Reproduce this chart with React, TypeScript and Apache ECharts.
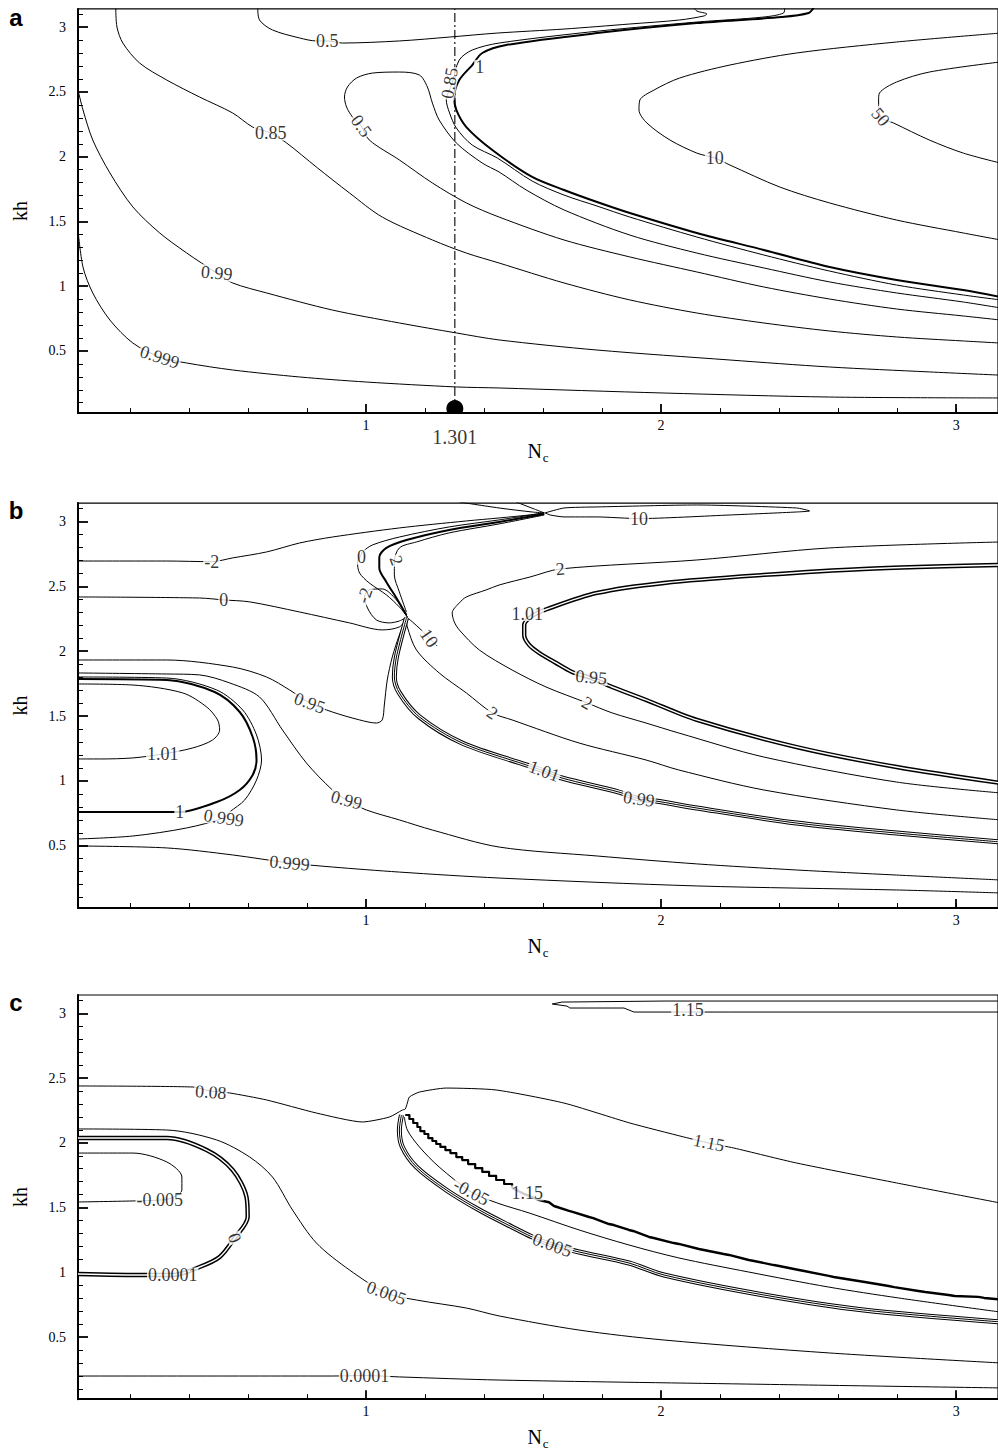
import React, { useEffect, useRef } from "react";
import * as echarts from "echarts";

type Pt = [number, number];
type Lbl = [number, number, string];

const SERIF = '"Liberation Serif", "Times New Roman", Times, serif';
const SANS = '"Liberation Sans", Arial, Helvetica, sans-serif';

// ---------------- axes ----------------
const xRange: [number, number] = [0.024, Math.PI];
const yRange: [number, number] = [0.02, Math.PI];
const xMajor = [1, 2, 3];
const xMinor = [0.2, 0.4, 0.6, 0.8, 1.2, 1.4, 1.6, 1.8, 2.2, 2.4, 2.6, 2.8, 3.0];
const yMajor = [0.5, 1, 1.5, 2, 2.5, 3];
const yMinor = [0.1, 0.2, 0.3, 0.4, 0.6, 0.7, 0.8, 0.9, 1.1, 1.2, 1.3, 1.4, 1.6, 1.7, 1.8, 1.9, 2.1, 2.2, 2.3, 2.4, 2.6, 2.7, 2.8, 2.9, 3.1];
const panelLetters = ["a", "b", "c"];
const xAxisTitle = "N";
const xAxisSub = "c";
const yAxisTitle = "kh";
const criticalNc = 1.301;
const criticalLabel = "1.301";
const criticalMarkerY = 0.055;

// ---------------- panel a contours ----------------
const aC0999: Pt[] = [[0.024,1.434],[0.041,1.147],[0.074,0.948],[0.132,0.739],[0.21,0.561],[0.301,0.453],[0.392,0.407],[0.548,0.353],[0.775,0.299],[1.001,0.26],[1.306,0.222],[1.451,0.214],[2.01,0.175],[2.571,0.144],[3.15,0.137]];
const aC099: Pt[] = [[0.024,2.515],[0.041,2.361],[0.074,2.129],[0.132,1.875],[0.21,1.612],[0.301,1.411],[0.392,1.257],[0.494,1.102],[0.548,1.025],[0.663,0.948],[0.886,0.816],[1.113,0.716],[1.306,0.639],[1.451,0.585],[1.783,0.507],[2.233,0.43],[2.571,0.376],[2.909,0.338],[3.15,0.313]];
const aC085: Pt[] = [[0.152,3.15],[0.156,3.002],[0.176,2.878],[0.233,2.723],[0.325,2.592],[0.436,2.461],[0.548,2.338],[0.616,2.229],[0.677,2.183],[0.731,2.106],[0.832,1.92],[0.944,1.72],[1.055,1.534],[1.225,1.357],[1.34,1.256],[1.451,1.179],[1.671,1.025],[1.894,0.894],[2.121,0.793],[2.348,0.716],[2.571,0.654],[2.798,0.608],[3.024,0.577],[3.15,0.561]];
const aC05top: Pt[] = [[0.633,3.15],[0.639,3.056],[0.683,2.979],[0.775,2.917],[0.832,2.894],[0.869,2.894],[0.92,2.878],[1.113,2.894],[1.282,2.924],[1.445,2.955],[1.671,2.986],[1.894,3.025],[2.063,3.056],[2.145,3.087],[2.155,3.102],[2.121,3.125],[2.111,3.15]];
const aC05loop: Pt[] = [[3.15,0.739],[3.024,0.77],[2.798,0.824],[2.571,0.901],[2.348,0.994],[2.121,1.11],[1.894,1.226],[1.671,1.357],[1.451,1.534],[1.34,1.643],[1.225,1.797],[1.113,1.975],[1.011,2.129],[0.984,2.237],[0.954,2.307],[0.934,2.384],[0.927,2.461],[0.937,2.538],[0.968,2.608],[1.022,2.646],[1.113,2.654],[1.181,2.631],[1.208,2.538],[1.225,2.414],[1.248,2.283],[1.306,2.106],[1.394,1.951],[1.451,1.882],[1.543,1.743],[1.671,1.589],[1.894,1.395],[2.121,1.256],[2.348,1.141],[2.571,1.033],[2.798,0.948],[3.024,0.878],[3.15,0.832]];
const aC1: Pt[] = [[2.517,3.15],[2.5,3.11],[2.409,3.079],[2.121,3.032],[1.783,2.955],[1.475,2.863],[1.394,2.801],[1.36,2.708],[1.316,2.592],[1.299,2.461],[1.306,2.361],[1.34,2.229],[1.428,2.052],[1.563,1.844],[1.671,1.743],[1.783,1.65],[1.894,1.565],[2.121,1.411],[2.348,1.28],[2.571,1.148],[2.798,1.048],[3.024,0.971],[3.15,0.917]];
const aC085b: Pt[] = [[2.419,3.15],[2.415,3.11],[2.348,3.079],[2.121,3.04],[1.79,2.971],[1.451,2.878],[1.36,2.824],[1.316,2.747],[1.292,2.569],[1.272,2.438],[1.282,2.345],[1.306,2.222],[1.36,2.09],[1.445,1.99],[1.563,1.812],[1.671,1.704],[1.783,1.619],[1.894,1.534],[2.121,1.38],[2.348,1.241],[2.571,1.117],[2.798,1.009],[3.024,0.932],[3.15,0.894]];
const aC10: Pt[] = [[3.15,2.955],[2.798,2.886],[2.459,2.801],[2.233,2.708],[2.063,2.608],[1.976,2.515],[1.928,2.438],[1.925,2.361],[1.952,2.26],[2.03,2.129],[2.121,2.028],[2.182,1.99],[2.233,1.936],[2.402,1.766],[2.571,1.643],[2.798,1.511],[3.024,1.411],[3.15,1.357]];
const aC50: Pt[] = [[3.15,2.732],[2.909,2.654],[2.798,2.577],[2.74,2.492],[2.737,2.438],[2.744,2.307],[2.788,2.26],[2.909,2.129],[3.024,2.028],[3.15,1.951]];
const aRefLine: Pt[] = [[criticalNc, 0.02], [criticalNc, Math.PI]];

const labelsA: Lbl[] = [[0.301,0.453,"0.999"],[0.494,1.102,"0.99"],[0.677,2.183,"0.85"],[0.869,2.894,"0.5"],[0.984,2.237,"0.5"],[1.283,2.569,"0.85"],[1.385,2.69,"1"],[2.182,1.99,"10"],[2.744,2.307,"50"]];
const rotA = [-18, -5, 0, 0, -55, 80, 0, 0, -50];

// ---------------- panel b contours ----------------
const bCm2: Pt[] = [[0.024,2.695],[0.325,2.695],[0.477,2.69],[0.548,2.719],[0.663,2.765],[0.775,2.834],[0.886,2.88],[1.113,2.95],[1.34,3.004],[1.451,3.027],[1.553,3.05],[1.604,3.066]];
const bCtop1: Pt[] = [[1.316,3.15],[1.451,3.104],[1.563,3.073],[1.604,3.066]];
const bCtop2: Pt[] = [[1.509,3.15],[1.57,3.096],[1.604,3.066]];
const bC10top: Pt[] = [[1.607,3.066],[1.671,3.104],[1.783,3.112],[2.121,3.127],[2.459,3.104],[2.503,3.081],[2.459,3.073],[2.233,3.05],[1.925,3.022],[1.783,3.035],[1.671,3.035],[1.624,3.05],[1.607,3.066]];
const bC0: Pt[] = [[1.604,3.066],[1.451,3.012],[1.282,2.958],[1.113,2.88],[1.022,2.819],[0.988,2.765],[0.98,2.726],[0.971,2.688],[0.978,2.603],[1.011,2.526],[1.069,2.434],[1.113,2.341],[1.14,2.264]];
const bCthick: Pt[] = [[1.604,3.058],[1.451,2.996],[1.282,2.935],[1.137,2.857],[1.069,2.796],[1.045,2.726],[1.045,2.642],[1.069,2.534],[1.103,2.41],[1.137,2.279]];
const bC2a: Pt[] = [[1.604,3.05],[1.451,2.981],[1.282,2.912],[1.171,2.842],[1.113,2.796],[1.096,2.688],[1.096,2.588],[1.113,2.457],[1.137,2.302]];
const bCpetal: Pt[] = [[1.14,2.264],[1.113,2.233],[1.079,2.218],[1.035,2.241],[1.005,2.333],[0.995,2.426],[1.011,2.472],[1.055,2.48],[1.103,2.395],[1.14,2.264]];
const bC0h: Pt[] = [[0.024,2.418],[0.436,2.41],[0.518,2.395],[0.606,2.38],[0.775,2.302],[0.944,2.218],[1.055,2.164],[1.113,2.187],[1.14,2.256]];
const bC095: Pt[] = [[0.024,1.932],[0.325,1.932],[0.548,1.878],[0.663,1.801],[0.741,1.701],[0.809,1.601],[0.886,1.531],[0.978,1.47],[1.035,1.446],[1.055,1.47],[1.062,1.585],[1.072,1.778],[1.089,1.955],[1.113,2.125],[1.137,2.256]];
const bC099: Pt[] = [[0.024,1.832],[0.325,1.824],[0.436,1.817],[0.538,1.755],[0.639,1.647],[0.717,1.392],[0.798,1.138],[0.886,0.93],[0.934,0.853],[1.001,0.776],[1.113,0.699],[1.225,0.621],[1.451,0.49],[1.783,0.421],[2.121,0.36],[2.459,0.313],[2.798,0.274],[3.15,0.236]];
const bC0999loop: Pt[] = [[0.024,1.801],[0.325,1.793],[0.494,1.701],[0.582,1.547],[0.629,1.354],[0.646,1.161],[0.629,1.007],[0.589,0.853],[0.538,0.76],[0.518,0.714],[0.392,0.637],[0.21,0.575],[0.024,0.552]];
const bC1loop: Pt[] = [[0.024,1.786],[0.325,1.778],[0.487,1.685],[0.572,1.531],[0.616,1.338],[0.629,1.161],[0.616,1.046],[0.572,0.93],[0.494,0.837],[0.369,0.76],[0.267,0.76],[0.098,0.76],[0.024,0.76]];
const bC101: Pt[] = [[0.024,1.747],[0.21,1.739],[0.379,1.678],[0.46,1.57],[0.497,1.47],[0.504,1.392],[0.48,1.315],[0.413,1.254],[0.311,1.207],[0.21,1.177],[0.098,1.169],[0.024,1.169]];
const bC0999: Pt[] = [[0.024,0.498],[0.325,0.483],[0.548,0.429],[0.741,0.367],[0.886,0.336],[1.113,0.297],[1.451,0.251],[2.121,0.19],[2.798,0.159],[3.15,0.136]];
const bC10: Pt[] = [[1.137,2.264],[1.157,2.226],[1.187,2.164],[1.214,2.102],[1.241,2.04]];
const bC2b: Pt[] = [[1.137,2.256],[1.14,2.187],[1.171,2.009],[1.248,1.832],[1.34,1.678],[1.428,1.524],[1.495,1.47],[1.722,1.292],[1.949,1.161],[2.06,1.084],[2.348,0.93],[2.798,0.776],[3.15,0.699]];
const bC2loop: Pt[] = [[3.15,2.842],[2.571,2.796],[2.121,2.703],[1.658,2.634],[1.556,2.572],[1.451,2.51],[1.407,2.472],[1.34,2.418],[1.316,2.372],[1.292,2.295],[1.299,2.226],[1.316,2.164],[1.384,2.009],[1.495,1.855],[1.61,1.724],[1.749,1.601],[1.834,1.524],[1.949,1.446],[2.06,1.369],[2.348,1.184],[2.798,0.991],[3.15,0.907]];
const bCinner: Pt[] = [[3.15,2.665],[2.686,2.634],[2.348,2.588],[2.01,2.526],[1.783,2.449],[1.614,2.325],[1.563,2.271],[1.536,2.202],[1.536,2.125],[1.553,2.048],[1.587,1.986],[1.644,1.909],[1.698,1.84],[1.763,1.793],[1.834,1.724],[1.949,1.624],[2.121,1.47],[2.459,1.261],[2.798,1.107],[3.15,0.984]];
const bCtriple: Pt[] = [[1.137,2.256],[1.103,1.955],[1.096,1.801],[1.113,1.678],[1.181,1.493],[1.326,1.292],[1.543,1.123],[1.604,1.076],[1.664,1.022],[1.857,0.914],[1.925,0.861],[1.982,0.845],[2.121,0.791],[2.459,0.675],[2.798,0.598],[3.15,0.529]];

const labelsB: Lbl[] = [[0.477,2.69,"-2"],[0.518,2.395,"0"],[0.985,2.726,"0"],[1.103,2.7,"2"],[0.995,2.43,"-2"],[1.214,2.102,"10"],[1.925,3.022,"10"],[1.658,2.634,"2"],[1.546,2.29,"1.01"],[1.763,1.8,"0.95"],[1.749,1.601,"2"],[1.428,1.524,"2"],[1.604,1.076,"1.01"],[1.925,0.861,"0.99"],[0.809,1.601,"0.95"],[0.934,0.853,"0.99"],[0.311,1.207,"1.01"],[0.369,0.76,"1"],[0.518,0.714,"0.999"],[0.741,0.367,"0.999"]];
const rotB = [0, 0, 0, -70, 70, -55, 0, 5, 0, -5, -30, -35, -20, -8, -20, -15, 0, 0, -8, -5];

// ---------------- panel c contours ----------------
const cC00001b: Pt[] = [[0.024,0.199],[0.886,0.199],[0.995,0.203],[1.113,0.192],[1.451,0.168],[2.29,0.137],[3.15,0.107]];
const cCm0005: Pt[] = [[0.024,1.921],[0.21,1.921],[0.325,1.852],[0.376,1.736],[0.376,1.636],[0.342,1.574],[0.301,1.558],[0.21,1.551],[0.024,1.543]];
const cC0005: Pt[] = [[0.024,2.107],[0.325,2.099],[0.494,2.022],[0.606,1.89],[0.683,1.736],[0.751,1.481],[0.832,1.226],[0.944,1.018],[1.069,0.84],[1.171,0.786],[1.34,0.724],[1.451,0.663],[1.722,0.554],[2.01,0.477],[2.571,0.377],[3.15,0.3]];
const cCloop: Pt[] = [[0.024,2.037],[0.325,2.037],[0.46,1.944],[0.548,1.79],[0.595,1.582],[0.599,1.427],[0.555,1.265],[0.504,1.118],[0.436,1.041],[0.345,0.979],[0.257,0.979],[0.024,0.987]];
const cC008: Pt[] = [[0.024,2.439],[0.413,2.431],[0.474,2.4],[0.538,2.385],[0.663,2.331],[0.832,2.23],[0.988,2.161],[1.079,2.199],[1.123,2.253],[1.133,2.261],[1.14,2.307],[1.147,2.354],[1.181,2.392],[1.272,2.423],[1.441,2.408],[1.671,2.307],[1.894,2.153],[2.077,2.045],[2.162,1.998],[2.246,1.96],[2.459,1.844],[2.798,1.69],[3.15,1.535]];
// staircase part of the thick 1.15 contour near the cusp
const cCstairNear: Pt[] = [[1.133,2.215],[1.147,2.184],[1.16,2.153],[1.174,2.122],[1.184,2.091],[1.198,2.068],[1.211,2.037],[1.225,2.014],[1.238,1.991],[1.252,1.968],[1.269,1.944],[1.286,1.921],[1.306,1.89],[1.326,1.867],[1.346,1.836],[1.37,1.805],[1.394,1.775],[1.417,1.744],[1.441,1.713],[1.468,1.682],[1.495,1.651]];
const cCstairFar: Pt[] = [[1.495,1.651],[1.536,1.605],[1.587,1.558],[1.62,1.541],[1.637,1.512],[1.688,1.474],[1.7,1.466],[1.756,1.427],[1.77,1.419],[1.823,1.373],[1.84,1.365],[1.891,1.327],[1.905,1.319],[1.959,1.273],[1.975,1.265],[2.043,1.226],[2.06,1.219],[2.128,1.18],[2.145,1.172],[2.212,1.141],[2.23,1.134],[2.297,1.095],[2.315,1.087],[2.382,1.056],[2.4,1.049],[2.467,1.018],[2.485,1.01],[2.568,0.972],[2.585,0.964],[2.669,0.933],[2.69,0.925],[2.771,0.894],[2.79,0.886],[2.872,0.856],[2.895,0.848],[2.974,0.825],[2.995,0.817],[3.075,0.81],[3.095,0.802],[3.15,0.79]];
const cCm005: Pt[] = [[1.13,2.199],[1.14,2.099],[1.181,1.968],[1.248,1.813],[1.357,1.62],[1.445,1.535],[1.553,1.458],[1.722,1.327],[1.891,1.211],[2.06,1.111],[2.297,1.002],[2.568,0.886],[2.804,0.802],[3.15,0.693]];
const cCtriple: Pt[] = [[1.12,2.214],[1.113,2.099],[1.123,1.968],[1.171,1.813],[1.272,1.636],[1.384,1.481],[1.495,1.35],[1.563,1.273],[1.631,1.211],[1.722,1.157],[1.891,1.072],[2.01,0.979],[2.348,0.825],[2.686,0.709],[3.15,0.617]];
const cC115top: Pt[] = [[3.15,3.095],[2.01,3.095],[1.664,3.087],[1.631,3.072],[1.681,3.056],[1.691,3.041],[1.874,3.041],[1.908,3.01],[2.091,3.01],[2.233,3.01],[3.15,3.01]];

const labelsC: Lbl[] = [[0.474,2.392,"0.08"],[2.162,2.0,"1.15"],[2.091,3.025,"1.15"],[0.301,1.558,"-0.005"],[0.555,1.265,"0"],[0.345,0.979,"0.0001"],[1.069,0.84,"0.005"],[0.995,0.203,"0.0001"],[1.357,1.62,"-0.05"],[1.546,1.612,"1.15"],[1.631,1.211,"0.005"]];
const rotC = [-4, -12, 0, 0, -70, 0, -20, 0, -28, 0, -20];

// ---------------- layout ----------------
const PANELS = [
  { top: 8.9, height: 404.2, letterY: 17 },
  { top: 503.1, height: 404.9, letterY: 510 },
  { top: 995.0, height: 404.2, letterY: 1002.5 },
];
const GRID_LEFT = 78;
const GRID_WIDTH = 921.5;

type Kind = "thin" | "thick" | "double" | "triple" | "stair" | "thickpoly" | "dashdot";
type Contour = { p: number; d: Pt[]; k?: Kind; s?: number };

const contours: Contour[] = [
  { p: 0, d: aC0999 }, { p: 0, d: aC099 }, { p: 0, d: aC085 }, { p: 0, d: aC05top },
  { p: 0, d: aC05loop }, { p: 0, d: aC085b }, { p: 0, d: aC1, k: "thick" },
  { p: 0, d: aC10 }, { p: 0, d: aC50 }, { p: 0, d: aRefLine, k: "dashdot", s: 0 },
  { p: 1, d: bCm2 }, { p: 1, d: bCtop1 }, { p: 1, d: bCtop2 }, { p: 1, d: bC10top, s: 0.2 },
  { p: 1, d: bC0 }, { p: 1, d: bCthick, k: "thick" }, { p: 1, d: bC2a }, { p: 1, d: bCpetal },
  { p: 1, d: bC0h }, { p: 1, d: bC095 }, { p: 1, d: bC099 }, { p: 1, d: bC0999loop },
  { p: 1, d: bC1loop, k: "thick" }, { p: 1, d: bC101 }, { p: 1, d: bC0999 }, { p: 1, d: bC10 },
  { p: 1, d: bC2b }, { p: 1, d: bC2loop }, { p: 1, d: bCinner, k: "double" }, { p: 1, d: bCtriple, k: "triple" },
  { p: 2, d: cC00001b }, { p: 2, d: cCm0005 }, { p: 2, d: cC0005 }, { p: 2, d: cCloop, k: "double" },
  { p: 2, d: cC008, s: 0.2 }, { p: 2, d: cCm005 }, { p: 2, d: cCtriple, k: "triple" },
  { p: 2, d: cCstairNear, k: "stair" }, { p: 2, d: cCstairFar, k: "thickpoly" }, { p: 2, d: cC115top, s: 0 },
];

function lineSeries(c: Contour): any[] {
  const base = {
    type: "line",
    xAxisIndex: c.p * 2,
    yAxisIndex: c.p * 2,
    data: c.d,
    symbol: "none",
    showSymbol: false,
    silent: true,
    clip: true,
    smooth: c.s === undefined ? 0.3 : c.s,
    z: 2,
  };
  const mk = (width: number, color: string, extra: any = {}) => ({
    ...base,
    ...extra,
    lineStyle: { color, width, cap: "butt", join: "round", ...(extra.lineStyle || {}) },
  });
  switch (c.k) {
    case "thick":
      return [mk(2, "#000")];
    case "double":
      return [mk(4.4, "#000"), mk(1.4, "#fff")];
    case "triple":
      return [mk(5, "#000"), mk(3, "#fff"), mk(1, "#000")];
    case "stair":
      return [mk(2.2, "#000", { step: "end", smooth: false })];
    case "thickpoly":
      return [mk(2.4, "#000", { smooth: false })];
    case "dashdot":
      return [mk(1.1, "#000", { lineStyle: { type: [9, 3, 2, 3] } })];
    default:
      return [mk(1, "#000")];
  }
}

function labelSeries(p: number, labels: Lbl[], rots: number[]) {
  return {
    type: "scatter",
    xAxisIndex: p * 2,
    yAxisIndex: p * 2,
    silent: true,
    z: 10,
    symbolSize: 1,
    itemStyle: { color: "rgba(0,0,0,0)" },
    data: labels.map((l, i) => ({
      value: [l[0], l[1]],
      name: l[2],
      label: { rotate: rots[i] || 0 },
    })),
    label: {
      show: true,
      position: "inside",
      formatter: (prm: any) => prm.name,
      fontFamily: SERIF,
      fontSize: 18,
      color: "#000",
      backgroundColor: "#fff",
      padding: [0, 1],
      lineHeight: 15,
    },
  };
}

function buildOption(): any {
  const grid = PANELS.map((p) => ({
    left: GRID_LEFT,
    top: p.top,
    width: GRID_WIDTH,
    height: p.height,
    show: true,
    borderColor: "#000",
    borderWidth: 1.2,
    backgroundColor: "rgba(0,0,0,0)",
    containLabel: false,
  }));

  const xAxis: any[] = [];
  const yAxis: any[] = [];
  PANELS.forEach((_, i) => {
    xAxis.push({
      gridIndex: i,
      type: "value",
      min: xRange[0],
      max: xRange[1],
      position: "bottom",
      axisLine: { show: true, onZero: false, lineStyle: { color: "#000", width: 2 } },
      axisTick: { show: true, inside: true, length: 9, lineStyle: { color: "#000", width: 1.8 }, customValues: xMajor },
      axisLabel: {
        show: true,
        customValues: xMajor,
        formatter: (v: number) => String(v),
        fontFamily: SERIF,
        fontSize: 14,
        color: "#000",
        margin: 5,
      },
      splitLine: { show: false },
      name: `{n|${xAxisTitle}}{s|${xAxisSub}}`,
      nameLocation: "middle",
      nameGap: 24,
      nameTextStyle: {
        rich: {
          n: { fontFamily: SERIF, fontSize: 20, color: "#000" },
          s: { fontFamily: SERIF, fontSize: 13, color: "#000", padding: [14, 0, 0, 1] },
        },
      },
    });
    xAxis.push({
      gridIndex: i,
      type: "value",
      min: xRange[0],
      max: xRange[1],
      position: "bottom",
      axisLine: { show: false, onZero: false },
      axisTick: { show: true, inside: true, length: 5, lineStyle: { color: "#000", width: 1 }, customValues: xMinor },
      axisLabel: { show: false },
      splitLine: { show: false },
    });
    yAxis.push({
      gridIndex: i,
      type: "value",
      min: yRange[0],
      max: yRange[1],
      position: "left",
      axisLine: { show: true, onZero: false, lineStyle: { color: "#000", width: 2 } },
      axisTick: { show: true, inside: true, length: 10, lineStyle: { color: "#000", width: 1.8 }, customValues: yMajor },
      axisLabel: {
        show: true,
        customValues: yMajor,
        formatter: (v: number) => String(v),
        fontFamily: SERIF,
        fontSize: 14,
        color: "#000",
        margin: 12,
      },
      splitLine: { show: false },
      name: yAxisTitle,
      nameLocation: "middle",
      nameRotate: 90,
      nameGap: 48,
      nameTextStyle: { fontFamily: SERIF, fontSize: 20, color: "#000" },
    });
    yAxis.push({
      gridIndex: i,
      type: "value",
      min: yRange[0],
      max: yRange[1],
      position: "left",
      axisLine: { show: false, onZero: false },
      axisTick: { show: true, inside: true, length: 5, lineStyle: { color: "#000", width: 1 }, customValues: yMinor },
      axisLabel: { show: false },
      splitLine: { show: false },
    });
  });

  const series: any[] = [];
  contours.forEach((c) => series.push(...lineSeries(c)));

  // critical point marker on panel a
  series.push({
    type: "custom",
    xAxisIndex: 0,
    yAxisIndex: 0,
    clip: true,
    silent: true,
    z: 6,
    data: [[criticalNc, criticalMarkerY]],
    renderItem: (_p: any, api: any) => {
      const pt = api.coord([api.value(0), api.value(1)]);
      return { type: "circle", shape: { cx: pt[0], cy: pt[1], r: 8.5 }, style: { fill: "#000" } };
    },
  });
  series.push({
    type: "scatter",
    xAxisIndex: 0,
    yAxisIndex: 0,
    silent: true,
    z: 6,
    symbolSize: 1,
    itemStyle: { color: "rgba(0,0,0,0)" },
    data: [{ value: [criticalNc, yRange[0]], name: criticalLabel }],
    label: {
      show: true,
      position: "bottom",
      distance: 13,
      formatter: (prm: any) => prm.name,
      fontFamily: SERIF,
      fontSize: 20,
      color: "#000",
    },
  });

  series.push(labelSeries(0, labelsA, rotA));
  series.push(labelSeries(1, labelsB, rotB));
  series.push(labelSeries(2, labelsC, rotC));

  const graphic = PANELS.map((p, i) => ({
    type: "text",
    x: 16,
    y: p.letterY,
    z: 100,
    style: {
      text: panelLetters[i],
      font: `bold 24px ${SANS}`,
      fill: "#000",
      align: "center",
      verticalAlign: "middle",
    },
  }));

  return {
    animation: false,
    backgroundColor: "#fff",
    grid,
    xAxis,
    yAxis,
    series,
    graphic,
  };
}

export default function App() {
  const ref = useRef<HTMLDivElement>(null);
  useEffect(() => {
    if (!ref.current) return;
    const chart = echarts.init(ref.current, undefined, { renderer: "svg" });
    chart.setOption(buildOption());
    return () => {
      chart.dispose();
    };
  }, []);
  return (
    <div
      ref={ref}
      style={{ position: "absolute", left: 0, top: 0, width: 998, height: 1454, background: "#fff" }}
    />
  );
}
